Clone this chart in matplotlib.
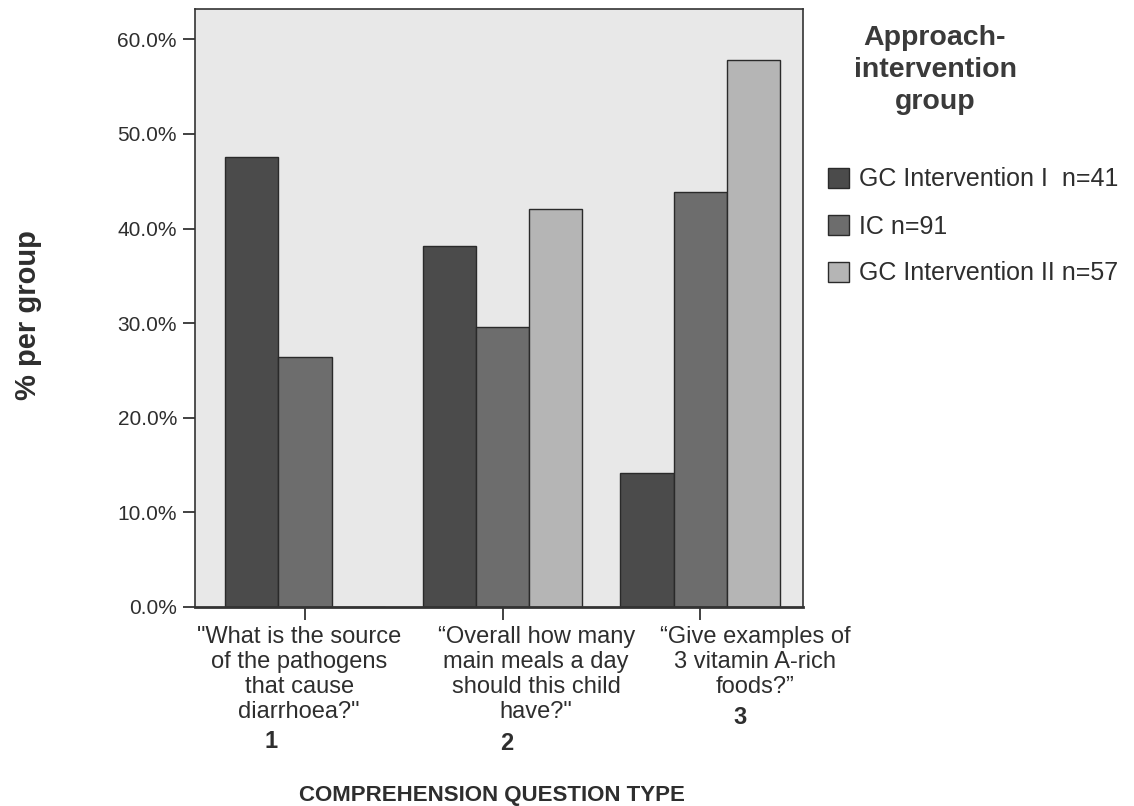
import matplotlib
matplotlib.use("Agg")
import matplotlib.pyplot as plt
import matplotlib.transforms as mtransforms
import numpy as np

plt.rcParams['font.family'] = ['Liberation Sans', 'DejaVu Sans']

question_numbers = ["1", "2", "3"]
question_texts = [
    '"What is the source\nof the pathogens\nthat cause\ndiarrhoea?"',
    '\u201cOverall how many\nmain meals a day\nshould this child\nhave?"',
    '\u201cGive examples of\n3 vitamin A-rich\nfoods?\u201d',
]
series_names = ["GC Intervention I  n=41", "IC n=91", "GC Intervention II n=57"]
gc1_values = [47.6, 38.2, 14.2]
ic_values = [26.4, 29.6, 43.9]
gc2_values = [0.0, 42.1, 57.8]
y_ticks = [0, 10, 20, 30, 40, 50, 60]

colors = ["#4b4b4b", "#6d6d6d", "#b5b5b5"]
text_color = "#2e2e2e"

fig = plt.figure(figsize=(11.34, 8.06), dpi=100)
fig.patch.set_facecolor("white")
ax = fig.add_axes([195/1134, 1-607/806, 608/1134, 598/806])
ax.set_facecolor("#e8e8e8")

x = np.arange(len(question_numbers))
w = 0.269
handles = []
for i, (vals, name, c) in enumerate(zip([gc1_values, ic_values, gc2_values], series_names, colors)):
    b = ax.bar(x + (i - 1) * w, vals, width=w, color=c, edgecolor="#2a2a2a",
               linewidth=1.0, label=name)
    handles.append(b)

ax.set_xlim(-0.557, 2.521)
ax.set_ylim(0, 63.2)
ax.set_yticks(y_ticks)
ax.set_yticklabels([f"{v:.1f}%" for v in y_ticks], fontsize=15, color=text_color)
ax.set_xticks(x)
ax.set_xticklabels([])
ax.tick_params(axis="both", direction="out", length=9, width=1.3, color="#333333", pad=4)
for s in ax.spines.values():
    s.set_color("#333333")
    s.set_linewidth(1.2)
ax.spines["bottom"].set_linewidth(2.0)

# category labels
text_offsets = [-0.03, 0.17, 0.28]
num_offsets = [-0.17, 0.02, 0.2]
num_y = [742, 744, 718]
blend = mtransforms.blended_transform_factory(ax.transData, fig.transFigure)
for xi, txt, dx in zip(x, question_texts, text_offsets):
    ax.text(xi + dx, 1 - 626/806, txt, transform=blend,
            ha="center", va="top", fontsize=17, color=text_color, linespacing=1.18)
for xi, num, dx, yy in zip(x, question_numbers, num_offsets, num_y):
    ax.text(xi + dx, 1 - yy / 806, num, ha="center", va="center", fontsize=17,
            fontweight="bold", color=text_color, transform=blend)

fig.text(492/1134, 1 - 795/806, "COMPREHENSION QUESTION TYPE", ha="center", va="center",
         fontsize=16, fontweight="bold", color=text_color)
fig.text(28/1134, 1 - 315/806, "% per group", ha="center", va="center", rotation=90,
         fontsize=21, fontweight="bold", color=text_color)

fig.text(935/1134, 1 - 70/806, "Approach-\nintervention\ngroup", ha="center", va="center",
         fontsize=20.5, fontweight="bold", color="#3a3a3a", linespacing=1.3)

leg = fig.legend(handles=handles, labels=series_names, loc="upper left",
                 bbox_to_anchor=(810/1134, 1 - 150/806), frameon=False,
                 fontsize=18, handlelength=0.85, handleheight=0.85, handletextpad=0.4,
                 labelspacing=0.92, borderpad=0.2)
for t in leg.get_texts():
    t.set_color(text_color)

fig.savefig("out.png", dpi=100, facecolor=fig.get_facecolor())
